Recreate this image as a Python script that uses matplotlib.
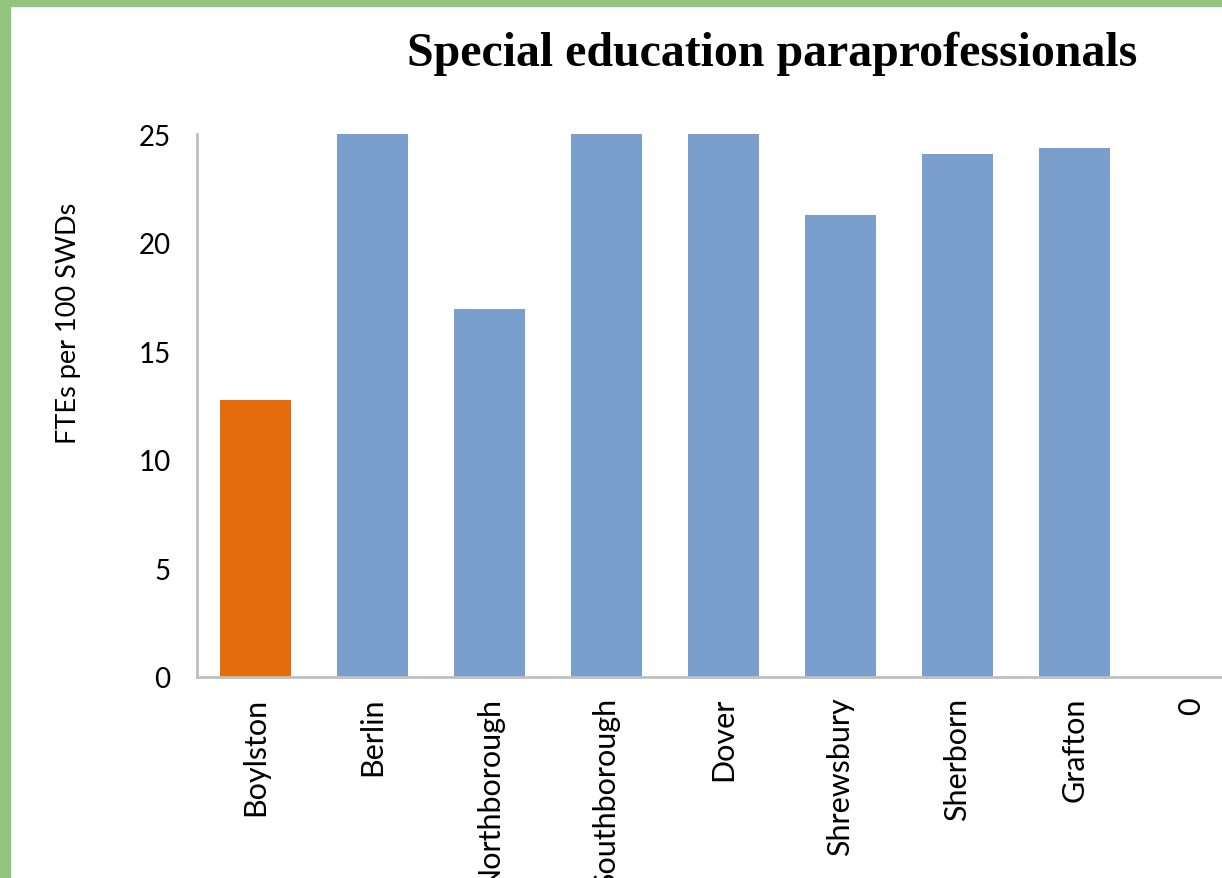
import matplotlib.pyplot as plt
from matplotlib.patches import Rectangle

towns = ["Boylston", "Berlin", "Northborough", "Southborough", "Dover",
         "Shrewsbury", "Sherborn", "Grafton", "0"]
ftes = [12.75, 25, 16.95, 25, 25, 21.25, 24.1, 24.35, 0]
bar_colors = ["#E46C0A"] + ["#7A9FCD"] * 8

plt.rcParams['font.family'] = ['Lato', 'DejaVu Sans']

fig = plt.figure(figsize=(12.22, 8.79), dpi=100)
W, H = 1222, 879
# axes runs off the right edge, like the cropped original
ax = fig.add_axes([197 / W, (H - 678) / H, 1053 / W, 543 / H])

ax.bar(range(len(towns)), ftes, width=0.6, color=bar_colors, zorder=2)
ax.set_xlim(-0.5, len(towns) - 0.5)
ax.set_ylim(0, 25)
ax.set_yticks([0, 5, 10, 15, 20, 25])
ax.set_xticks(range(len(towns)))
ax.set_xticklabels(towns, rotation=90, fontsize=22)
ax.tick_params(axis='y', labelsize=20, length=0, pad=19)
ax.tick_params(axis='x', length=0, pad=14)

for s in ['top', 'right']:
    ax.spines[s].set_visible(False)
for s in ['left', 'bottom']:
    ax.spines[s].set_color('#BFBFBF')
    ax.spines[s].set_linewidth(2)

ax.set_ylabel("FTEs per 100 SWDs", fontsize=19.5)
ax.yaxis.set_label_coords(-116 / 1053, (678 - 323) / 543)

fig.text(772 / W, 1 - 54 / H, "Special education paraprofessionals",
         family='Liberation Serif', weight='bold', fontsize=34.5,
         ha='center', va='center')

# green frame on the left and top edges
green = "#93C47D"
fig.patches.append(Rectangle((0, 0), 10 / W, 1, transform=fig.transFigure,
                             color=green, zorder=5))
fig.patches.append(Rectangle((0, 1 - 7 / H), 1, 7 / H, transform=fig.transFigure,
                             color=green, zorder=5))

fig.savefig("out.png", dpi=100)
